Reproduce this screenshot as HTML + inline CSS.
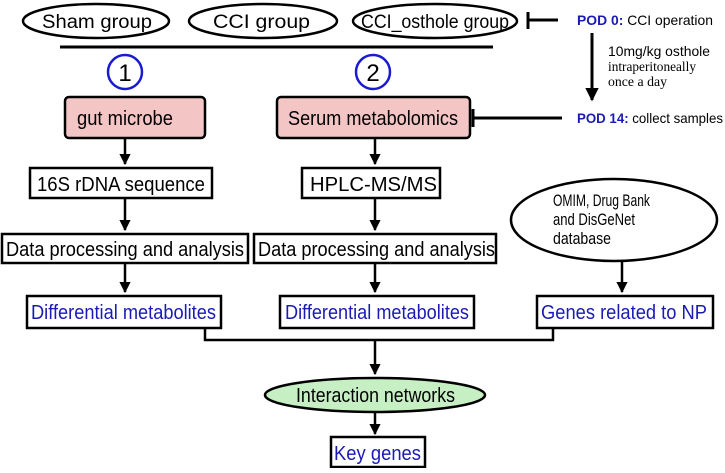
<!DOCTYPE html>
<html><head><meta charset="utf-8"><style>body{margin:0;background:#fff}</style></head><body>
<svg width="725" height="468" viewBox="0 0 725 468" xmlns="http://www.w3.org/2000/svg" font-family="Liberation Sans, sans-serif">
<defs><marker id="a" viewBox="0 0 10 10" refX="9" refY="5" markerWidth="4.5" markerHeight="4.5" orient="auto"><path d="M0,0L10,5L0,10z" fill="#000"/></marker></defs>
<g fill="#fff" stroke="#000" stroke-width="2.5">
<ellipse cx="96" cy="21" rx="73" ry="17"/>
<ellipse cx="263" cy="21" rx="74" ry="17"/>
<ellipse cx="435" cy="21" rx="82" ry="17"/>
</g>
<g font-size="19">
<text x="42" y="28" textLength="110" lengthAdjust="spacingAndGlyphs">Sham group</text>
<text x="213" y="28" textLength="97" lengthAdjust="spacingAndGlyphs">CCI group</text>
<text x="361" y="28" textLength="148" lengthAdjust="spacingAndGlyphs">CCI_osthole group</text>
</g>
<g stroke="#000" stroke-width="3" fill="none">
<path d="M528,12V29M528,20H558"/>
<path d="M60,47H493"/>
<path d="M592,33V100" marker-end="url(#a)"/>
<path d="M473,109V127M473,118H562"/>
</g>
<text x="577" y="25" font-size="14" textLength="136" lengthAdjust="spacingAndGlyphs"><tspan fill="#1a1ab4" font-weight="bold">POD 0:</tspan> CCI operation</text>
<text x="608" y="56" font-size="14" textLength="102" lengthAdjust="spacingAndGlyphs">10mg/kg osthole</text>
<text x="608" y="71" font-size="14" font-family="Liberation Serif, serif" textLength="88" lengthAdjust="spacingAndGlyphs">intraperitoneally</text>
<text x="608" y="86" font-size="14" font-family="Liberation Serif, serif" textLength="59" lengthAdjust="spacingAndGlyphs">once a day</text>
<text x="577" y="123" font-size="14" textLength="146" lengthAdjust="spacingAndGlyphs"><tspan fill="#1a1ab4" font-weight="bold">POD 14:</tspan> collect samples</text>
<g fill="#fff" stroke="#1a1ad0" stroke-width="2.5">
<circle cx="125" cy="72" r="17"/><circle cx="373" cy="72" r="17"/></g>
<g font-size="24" text-anchor="middle"><text x="125" y="81">1</text><text x="373" y="81">2</text></g>
<g fill="#f4c5c5" stroke="#000" stroke-width="2.5">
<rect x="65" y="97" width="140" height="41" rx="4"/>
<rect x="277" y="97" width="193" height="41" rx="4"/>
</g>
<g fill="#fff" stroke="#000" stroke-width="2.5">
<rect x="30" y="168" width="182" height="30"/>
<rect x="302" y="168" width="138" height="30"/>
<rect x="2" y="234" width="246" height="29"/>
<rect x="254" y="234" width="242" height="29"/>
<rect x="27" y="296" width="194" height="32"/>
<rect x="280" y="296" width="194" height="32"/>
<rect x="537" y="296" width="176" height="32"/>
<ellipse cx="614" cy="220" rx="103" ry="41"/>
<rect x="331" y="437" width="94" height="30"/>
</g>
<ellipse cx="375" cy="395" rx="110" ry="17" fill="#c6f0c4" stroke="#000" stroke-width="2.5"/>
<g stroke="#000" stroke-width="2.5" fill="none">
<path d="M125,138V164" marker-end="url(#a)"/>
<path d="M375,138V164" marker-end="url(#a)"/>
<path d="M125,198V230" marker-end="url(#a)"/>
<path d="M375,198V230" marker-end="url(#a)"/>
<path d="M125,263V292" marker-end="url(#a)"/>
<path d="M375,263V292" marker-end="url(#a)"/>
<path d="M622,262V292" marker-end="url(#a)"/>
<path d="M205,328V340H553V328"/>
<path d="M375,340V374" marker-end="url(#a)"/>
<path d="M375,412V434" marker-end="url(#a)"/>
</g>
<g font-size="20">
<text x="77" y="125" textLength="96" lengthAdjust="spacingAndGlyphs">gut microbe</text>
<text x="288" y="125" textLength="170" lengthAdjust="spacingAndGlyphs">Serum metabolomics</text>
<text x="37" y="191" textLength="168" lengthAdjust="spacingAndGlyphs">16S rDNA sequence</text>
<text x="310" y="191" textLength="127" lengthAdjust="spacingAndGlyphs">HPLC-MS/MS</text>
<text x="6" y="256" textLength="238" lengthAdjust="spacingAndGlyphs">Data processing and analysis</text>
<text x="258" y="256" textLength="237" lengthAdjust="spacingAndGlyphs">Data processing and analysis</text>
<text x="296" y="402" textLength="159" lengthAdjust="spacingAndGlyphs">Interaction networks</text>
</g>
<g font-size="20" fill="#1a1ab4">
<text x="31" y="319" textLength="185" lengthAdjust="spacingAndGlyphs">Differential metabolites</text>
<text x="285" y="319" textLength="184" lengthAdjust="spacingAndGlyphs">Differential metabolites</text>
<text x="541" y="319" textLength="166" lengthAdjust="spacingAndGlyphs">Genes related to NP</text>
<text x="334" y="460" textLength="87" lengthAdjust="spacingAndGlyphs">Key genes</text>
</g>
<g font-size="17"><text x="553" y="206" textLength="97" lengthAdjust="spacingAndGlyphs">OMIM, Drug Bank</text><text x="553" y="225" textLength="82" lengthAdjust="spacingAndGlyphs">and DisGeNet</text><text x="553" y="244" textLength="58" lengthAdjust="spacingAndGlyphs">database</text></g>
</svg>
</body></html>
